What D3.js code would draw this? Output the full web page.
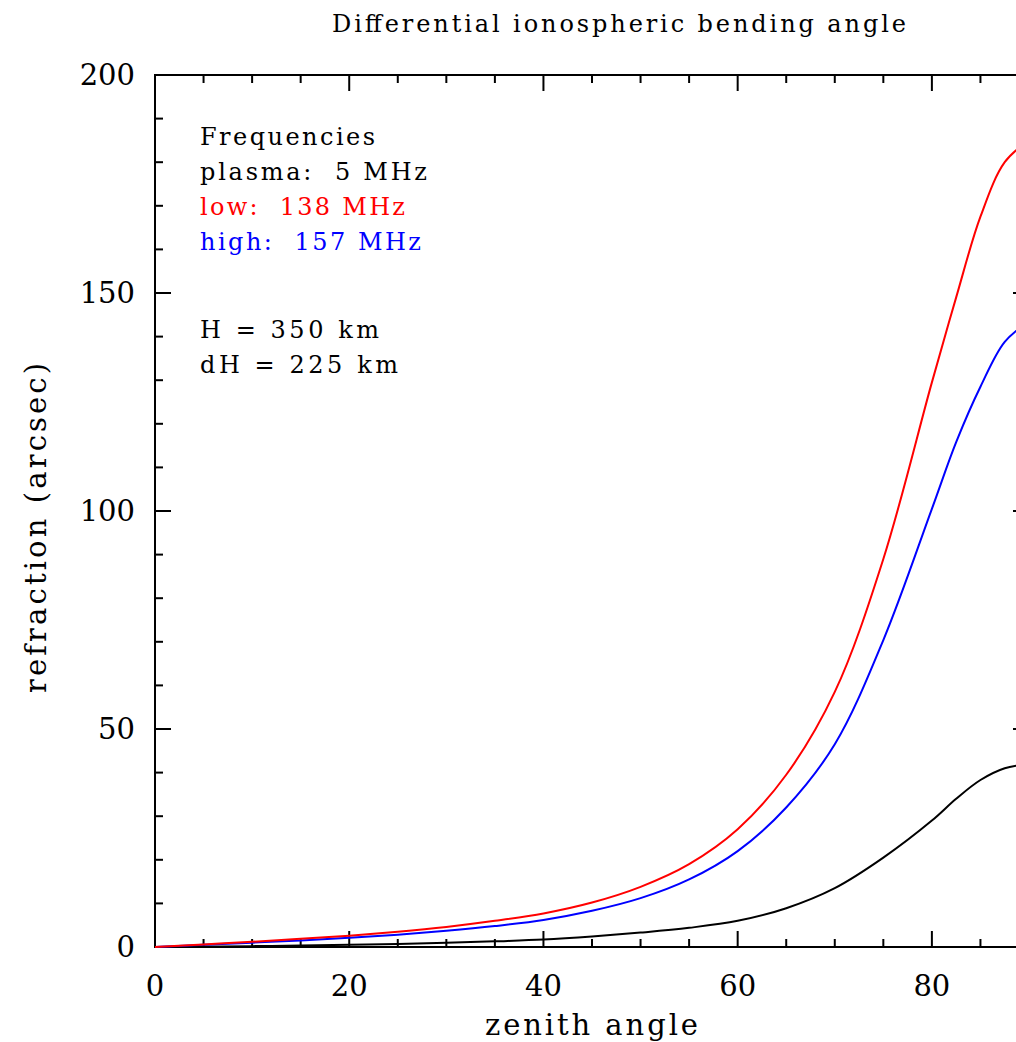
<!DOCTYPE html>
<html>
<head>
  <title>Differential ionospheric bending angle</title>
  <style>
    body { margin: 0; background: #fff; }
    text { font-family: "DejaVu Serif", serif; fill: #000; }
  </style>
</head>
<body>
  <svg id="chart" width="1016" height="1042"></svg>

  <script src="https://d3js.org/d3.v7.min.js"></script>
  <script>
    // zenith angle (deg) and refraction (arcsec)
    const zenith = [0, 5, 10, 15, 20, 25, 30, 35, 40, 45, 50, 55, 60, 65, 70, 75, 80, 82.5, 85, 87.5, 90];
    const lowFreq = [0, 0.6, 1.2, 1.9, 2.6, 3.5, 4.6, 6.0, 7.7, 10.2, 13.8, 19.0, 27, 39.5, 58.5, 89, 129.5, 149, 167.5, 180, 185];
    const highFreq = [0, 0.5, 1.0, 1.5, 2.1, 2.8, 3.7, 4.8, 6.2, 8.3, 11.2, 15.5, 22, 32, 46.5, 70.4, 100.5, 115.8, 128.5, 138.8, 143.5];
    const plasma = [0, 0.1, 0.2, 0.35, 0.5, 0.7, 0.95, 1.3, 1.7, 2.4, 3.3, 4.4, 6.0, 8.9, 13.5, 20.5, 29, 34, 38.3, 41, 42];

    const xTicks = [0, 20, 40, 60, 80];
    const yTicks = [0, 50, 100, 150, 200];

    const legendText = ['Frequencies', 'plasma:  5 MHz', 'low:  138 MHz', 'high:  157 MHz', 'H = 350 km', 'dH = 225 km'];
    const legendColors = ['#000', '#000', '#ff0000', '#0000ff', '#000', '#000'];
    const legendWidths = [175, 227, 205, 221, 179, 198];

    const pl = 155, pt = 75, pr = 1029, pb = 947;

    const svg = d3.select('#chart');
    const x = d3.scaleLinear().domain([0, 90]).range([pl, pr]);
    const y = d3.scaleLinear().domain([0, 200]).range([pb, pt]);

    // frame
    svg.append('rect')
      .attr('x', pl).attr('y', pt)
      .attr('width', pr - pl).attr('height', pb - pt)
      .attr('fill', 'none').attr('stroke', '#000').attr('stroke-width', 2);

    // inward ticks on all four sides
    const tickG = svg.append('g').attr('stroke', '#000').attr('stroke-width', 2);
    d3.range(0, 91, 5).forEach(v => {
      const len = v % 20 === 0 ? 16 : 8;
      tickG.append('line').attr('x1', x(v)).attr('x2', x(v)).attr('y1', pb).attr('y2', pb - len);
      tickG.append('line').attr('x1', x(v)).attr('x2', x(v)).attr('y1', pt).attr('y2', pt + len);
    });
    d3.range(0, 201, 10).forEach(v => {
      const len = v % 50 === 0 ? 16 : 8;
      tickG.append('line').attr('x1', pl).attr('x2', pl + len).attr('y1', y(v)).attr('y2', y(v));
      tickG.append('line').attr('x1', pr).attr('x2', pr - len).attr('y1', y(v)).attr('y2', y(v));
    });

    svg.selectAll('.xlab').data(xTicks).enter().append('text')
      .attr('x', d => x(d)).attr('y', 996)
      .attr('text-anchor', 'middle').attr('font-size', 29)
      .text(d => d);

    svg.selectAll('.ylab').data(yTicks).enter().append('text')
      .attr('x', 135).attr('y', d => y(d) + 10)
      .attr('text-anchor', 'end').attr('font-size', 29)
      .text(d => d);

    // curves
    const line = d3.line()
      .x(d => x(d[0]))
      .y(d => y(d[1]))
      .curve(d3.curveCatmullRom.alpha(0.5));

    [[plasma, '#000'], [highFreq, '#0000ff'], [lowFreq, '#ff0000']].forEach(([vals, col]) => {
      svg.append('path')
        .datum(zenith.map((z, i) => [z, vals[i]]))
        .attr('d', line)
        .attr('fill', 'none')
        .attr('stroke', col)
        .attr('stroke-width', 2);
    });

    // legend text, with a gap before the height lines
    svg.selectAll('.leg').data(legendText).enter().append('text')
      .attr('x', 200)
      .attr('y', (d, i) => 145 + i * 35 + (i >= 4 ? 53 : 0))
      .attr('font-size', 24)
      .attr('textLength', (d, i) => legendWidths[i])
      .attr('lengthAdjust', 'spacing')
      .style('fill', (d, i) => legendColors[i])
      .attr('xml:space', 'preserve')
      .text(d => d);

    // titles
    svg.append('text')
      .attr('x', 332).attr('y', 32)
      .attr('font-size', 24)
      .attr('textLength', 574)
      .attr('lengthAdjust', 'spacing')
      .text('Differential ionospheric bending angle');

    svg.append('text')
      .attr('x', 485).attr('y', 1035)
      .attr('font-size', 29)
      .attr('textLength', 213)
      .attr('lengthAdjust', 'spacing')
      .text('zenith angle');

    svg.append('text')
      .attr('transform', 'translate(46,693) rotate(-90)')
      .attr('font-size', 29)
      .attr('textLength', 330)
      .attr('lengthAdjust', 'spacing')
      .text('refraction (arcsec)');
  </script>
</body>
</html>
